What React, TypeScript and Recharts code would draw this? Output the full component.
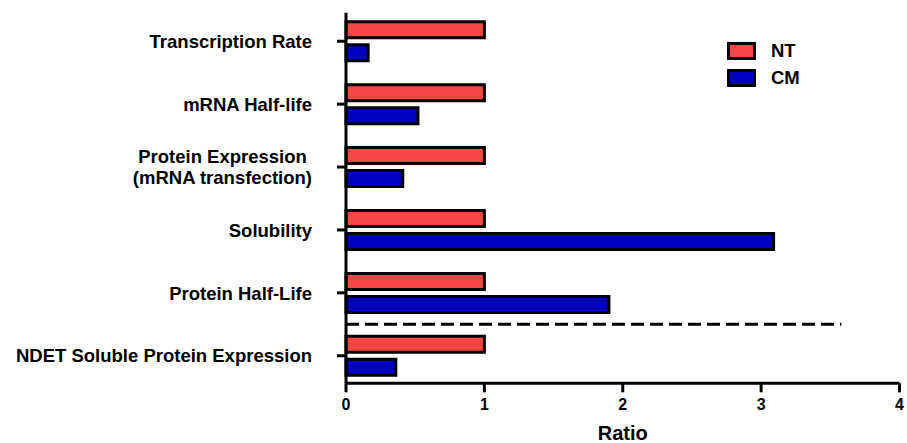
import React from 'react';
import { BarChart, Bar, XAxis, YAxis, Legend, ReferenceLine, Label } from 'recharts';

const categories = [
  'Transcription Rate',
  'mRNA Half-life',
  'Protein Expression \n(mRNA transfection)',
  'Solubility',
  'Protein Half-Life',
  'NDET Soluble Protein Expression',
];
const seriesNames = ['NT', 'CM'];
const ntValues = [1, 1, 1, 1, 1, 1];
const cmValues = [0.16, 0.52, 0.41, 3.09, 1.9, 0.36];
const xTicks = [0, 1, 2, 3, 4];
const dividerEnd = 3.58;

const FONT = '"Liberation Sans", Arial, Helvetica, sans-serif';
const RED = '#f94545';
const BLUE = '#0000c0';

const data = categories.map((name, i) => ({ name, NT: ntValues[i], CM: cmValues[i] }));

const YTick = (props: any) => {
  const { x, y, payload } = props;
  const lines = String(payload.value).split('\n');
  const lh = 21;
  const start = y - ((lines.length - 1) * lh) / 2;
  return (
    <text
      x={x}
      textAnchor="end"
      fontFamily={FONT}
      fontWeight="bold"
      fontSize={18.5}
      fill="#000"
      style={{ whiteSpace: 'pre' }}
    >
      {lines.map((l, i) => (
        <tspan key={i} x={x} y={start + i * lh + 6.7}>
          {l}
        </tspan>
      ))}
    </text>
  );
};

const XTick = (props: any) => {
  const { x, y, payload } = props;
  return (
    <text x={x} y={y + 16} textAnchor="middle" fontFamily={FONT} fontWeight="bold" fontSize={16} fill="#000">
      {payload.value}
    </text>
  );
};

const renderLegend = (props: any) => {
  const payload: any[] = props.payload || [];
  const items = seriesNames.map((n) => payload.find((p) => p.value === n)).filter(Boolean);
  return (
    <svg width={120} height={60}>
      {items.map((entry: any, i: number) => (
        <g key={entry.value}>
          <rect x={3.5} y={8.5 + i * 27} width={26} height={15} fill={entry.color} stroke="#000" strokeWidth={3} />
          <text x={46} y={22.3 + i * 27} fontFamily={FONT} fontWeight="bold" fontSize={18.5} fill="#000">
            {entry.value}
          </text>
        </g>
      ))}
    </svg>
  );
};

const App: React.FC = () => {
  return (
    <div style={{ position: 'absolute', left: 0, top: 0, background: '#fff' }}>
      <BarChart
        width={907}
        height={443}
        data={data}
        layout="vertical"
        margin={{ top: 12.7, right: 7.5, bottom: 0, left: 0 }}
        barSize={16}
        barGap={7}
      >
        <XAxis
          type="number"
          domain={[0, 4]}
          ticks={xTicks}
          interval={0}
          axisLine={{ stroke: '#000', strokeWidth: 3 }}
          tickLine={{ stroke: '#000', strokeWidth: 3 }}
          tickSize={9}
          tick={<XTick />}
          height={59.7}
        >
          <Label
            value="Ratio"
            position="insideBottom"
            offset={3}
            style={{ fontFamily: FONT, fontWeight: 'bold', fontSize: 20, fill: '#000' }}
          />
        </XAxis>
        <YAxis
          type="category"
          dataKey="name"
          width={346}
          interval={0}
          padding={{ top: -2.9, bottom: -3.9 }}
          axisLine={{ stroke: '#000', strokeWidth: 3 }}
          tickLine={{ stroke: '#000', strokeWidth: 3 }}
          tickSize={9}
          tickMargin={25}
          tick={<YTick />}
        />
        <Legend
          layout="vertical"
          align="center"
          verticalAlign="middle"
          content={renderLegend}
          wrapperStyle={{ position: 'absolute', left: 725, top: 35, width: 120, height: 60 }}
        />
        <Bar dataKey="NT" name="NT" fill={RED} stroke="#000" strokeWidth={3} isAnimationActive={false} />
        <Bar dataKey="CM" name="CM" fill={BLUE} stroke="#000" strokeWidth={3} isAnimationActive={false} />
        <ReferenceLine
          segment={[
            { x: 0, y: categories[5] },
            { x: dividerEnd, y: categories[5] },
          ]}
          position="start"
          ifOverflow="visible"
          stroke="#000"
          strokeWidth={3}
          strokeDasharray="13 6"
        />
      </BarChart>
    </div>
  );
};

export default App;
